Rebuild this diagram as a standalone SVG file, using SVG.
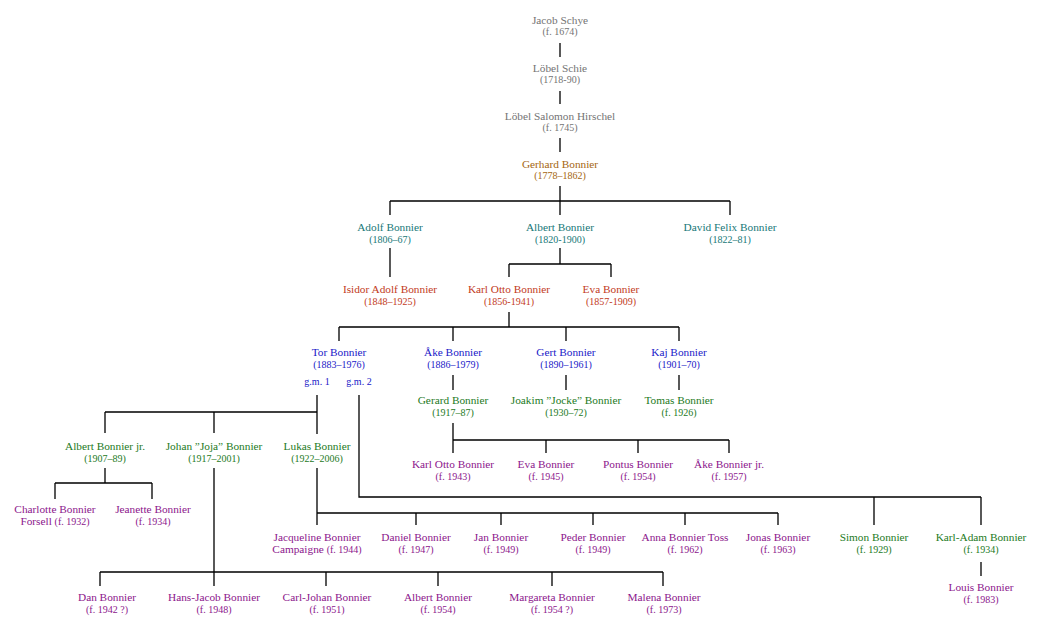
<svg xmlns="http://www.w3.org/2000/svg" width="1047" height="631" viewBox="0 0 1047 631">
<style>
text{font-family:"Liberation Serif","Times New Roman",serif;text-anchor:middle}
.n{font-size:11.3px}
.d{font-size:10px}
.gray{fill:#747474}
.brown{fill:#a5660f}
.teal{fill:#177878}
.red{fill:#c23a1c}
.blue{fill:#2020c8}
.green{fill:#1d7a1d}
.purple{fill:#8c168c}
#connectors path{stroke:#000;stroke-width:1.3;fill:none}
</style>
<rect width="1047" height="631" fill="#fff"/>
<g id="connectors">
<path d="M560 43V57M560 91V104M560 138V152M560 186V201"/>
<path d="M390 201H730M390 201V215M560 201V215M730 201V215"/>
<path d="M390 248V277"/>
<path d="M560 248V264M509 264H611M509 264V277M611 264V277"/>
<path d="M509 312V327M339 327H679M339 327V341M453 327V341M566 327V341M679 327V341"/>
<path d="M453 375V390M566 375V390M679 375V390"/>
<path d="M317 395V434M105 412H317M105 412V433M214 412V433"/>
<path d="M359 395V497H981M874 497V525M981 497V525"/>
<path d="M453 423V453M453 440H729M546 440V453M638 440V453M729 440V453"/>
<path d="M105 468V483M55 483H152M55 483V499M152 483V499"/>
<path d="M214 468V586M100 572H663M100 572V586M326 572V586M438 572V586M552 572V586M663 572V586"/>
<path d="M317 468V525M317 513H778M416 513V525M501 513V525M593 513V525M685 513V525M778 513V525"/>
<path d="M981 562V576"/>
</g>
<g id="jacob-schye" class="gray"><text class="n" x="560" y="23.5">Jacob Schye</text><text class="d" x="560" y="35">(f. 1674)</text></g>
<g id="lobel-schie" class="gray"><text class="n" x="560" y="71.5">Löbel Schie</text><text class="d" x="560" y="83">(1718-90)</text></g>
<g id="lobel-salomon-hirschel" class="gray"><text class="n" x="560" y="119.5">Löbel Salomon Hirschel</text><text class="d" x="560" y="131">(f. 1745)</text></g>
<g id="gerhard-bonnier" class="brown"><text class="n" x="560" y="167.5">Gerhard Bonnier</text><text class="d" x="560" y="179">(1778–1862)</text></g>
<g id="adolf-bonnier" class="teal"><text class="n" x="390" y="231">Adolf Bonnier</text><text class="d" x="390" y="242.5">(1806–67)</text></g>
<g id="albert-bonnier" class="teal"><text class="n" x="560" y="231">Albert Bonnier</text><text class="d" x="560" y="242.5">(1820-1900)</text></g>
<g id="david-felix-bonnier" class="teal"><text class="n" x="730" y="231">David Felix Bonnier</text><text class="d" x="730" y="242.5">(1822–81)</text></g>
<g id="isidor-adolf-bonnier" class="red"><text class="n" x="390" y="293">Isidor Adolf Bonnier</text><text class="d" x="390" y="304.5">(1848–1925)</text></g>
<g id="karl-otto-bonnier" class="red"><text class="n" x="509" y="293">Karl Otto Bonnier</text><text class="d" x="509" y="304.5">(1856-1941)</text></g>
<g id="eva-bonnier" class="red"><text class="n" x="611" y="293">Eva Bonnier</text><text class="d" x="611" y="304.5">(1857-1909)</text></g>
<g id="tor-bonnier" class="blue"><text class="n" x="339" y="356">Tor Bonnier</text><text class="d" x="339" y="367.5">(1883–1976)</text><text class="d" x="317" y="384.5">g.m. 1</text><text class="d" x="359" y="384.5">g.m. 2</text></g>
<g id="ake-bonnier" class="blue"><text class="n" x="453" y="356">Åke Bonnier</text><text class="d" x="453" y="367.5">(1886–1979)</text></g>
<g id="gert-bonnier" class="blue"><text class="n" x="566" y="356">Gert Bonnier</text><text class="d" x="566" y="367.5">(1890–1961)</text></g>
<g id="kaj-bonnier" class="blue"><text class="n" x="679" y="356">Kaj Bonnier</text><text class="d" x="679" y="367.5">(1901–70)</text></g>
<g id="gerard-bonnier" class="green"><text class="n" x="453" y="404">Gerard Bonnier</text><text class="d" x="453" y="415.5">(1917–87)</text></g>
<g id="joakim-bonnier" class="green"><text class="n" x="566" y="404">Joakim ”Jocke” Bonnier</text><text class="d" x="566" y="415.5">(1930–72)</text></g>
<g id="tomas-bonnier" class="green"><text class="n" x="679" y="404">Tomas Bonnier</text><text class="d" x="679" y="415.5">(f. 1926)</text></g>
<g id="albert-bonnier-jr" class="green"><text class="n" x="105" y="450">Albert Bonnier jr.</text><text class="d" x="105" y="461.5">(1907–89)</text></g>
<g id="johan-bonnier" class="green"><text class="n" x="214" y="450">Johan ”Joja” Bonnier</text><text class="d" x="214" y="461.5">(1917–2001)</text></g>
<g id="lukas-bonnier" class="green"><text class="n" x="317" y="450">Lukas Bonnier</text><text class="d" x="317" y="461.5">(1922–2006)</text></g>
<g id="simon-bonnier" class="green"><text class="n" x="874" y="541">Simon Bonnier</text><text class="d" x="874" y="552.5">(f. 1929)</text></g>
<g id="karl-adam-bonnier" class="green"><text class="n" x="981" y="541">Karl-Adam Bonnier</text><text class="d" x="981" y="552.5">(f. 1934)</text></g>
<g id="karl-otto-bonnier-1943" class="purple"><text class="n" x="453" y="468">Karl Otto Bonnier</text><text class="d" x="453" y="479.5">(f. 1943)</text></g>
<g id="eva-bonnier-1945" class="purple"><text class="n" x="546" y="468">Eva Bonnier</text><text class="d" x="546" y="479.5">(f. 1945)</text></g>
<g id="pontus-bonnier" class="purple"><text class="n" x="638" y="468">Pontus Bonnier</text><text class="d" x="638" y="479.5">(f. 1954)</text></g>
<g id="ake-bonnier-jr" class="purple"><text class="n" x="729" y="468">Åke Bonnier jr.</text><text class="d" x="729" y="479.5">(f. 1957)</text></g>
<g id="charlotte-bonnier-forsell" class="purple"><text class="n" x="55" y="513">Charlotte Bonnier</text><text class="n" x="55" y="525">Forsell <tspan class="d">(f. 1932)</tspan></text></g>
<g id="jeanette-bonnier" class="purple"><text class="n" x="153" y="513">Jeanette Bonnier</text><text class="d" x="153" y="524.5">(f. 1934)</text></g>
<g id="jacqueline-bonnier-campaigne" class="purple"><text class="n" x="317" y="541">Jacqueline Bonnier</text><text class="n" x="317" y="553">Campaigne <tspan class="d">(f. 1944)</tspan></text></g>
<g id="daniel-bonnier" class="purple"><text class="n" x="416" y="541">Daniel Bonnier</text><text class="d" x="416" y="552.5">(f. 1947)</text></g>
<g id="jan-bonnier" class="purple"><text class="n" x="501" y="541">Jan Bonnier</text><text class="d" x="501" y="552.5">(f. 1949)</text></g>
<g id="peder-bonnier" class="purple"><text class="n" x="593" y="541">Peder Bonnier</text><text class="d" x="593" y="552.5">(f. 1949)</text></g>
<g id="anna-bonnier-toss" class="purple"><text class="n" x="685" y="541">Anna Bonnier Toss</text><text class="d" x="685" y="552.5">(f. 1962)</text></g>
<g id="jonas-bonnier" class="purple"><text class="n" x="778" y="541">Jonas Bonnier</text><text class="d" x="778" y="552.5">(f. 1963)</text></g>
<g id="louis-bonnier" class="purple"><text class="n" x="981" y="591">Louis Bonnier</text><text class="d" x="981" y="602.5">(f. 1983)</text></g>
<g id="dan-bonnier" class="purple"><text class="n" x="107" y="601">Dan Bonnier</text><text class="d" x="107" y="612.5">(f. 1942 ?)</text></g>
<g id="hans-jacob-bonnier" class="purple"><text class="n" x="214" y="601">Hans-Jacob Bonnier</text><text class="d" x="214" y="612.5">(f. 1948)</text></g>
<g id="carl-johan-bonnier" class="purple"><text class="n" x="327" y="601">Carl-Johan Bonnier</text><text class="d" x="327" y="612.5">(f. 1951)</text></g>
<g id="albert-bonnier-1954" class="purple"><text class="n" x="438" y="601">Albert Bonnier</text><text class="d" x="438" y="612.5">(f. 1954)</text></g>
<g id="margareta-bonnier" class="purple"><text class="n" x="552" y="601">Margareta Bonnier</text><text class="d" x="552" y="612.5">(f. 1954 ?)</text></g>
<g id="malena-bonnier" class="purple"><text class="n" x="664" y="601">Malena Bonnier</text><text class="d" x="664" y="612.5">(f. 1973)</text></g>
</svg>
